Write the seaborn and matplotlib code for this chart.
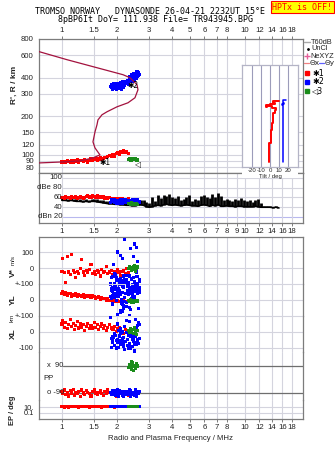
import matplotlib
matplotlib.use("Agg")
import pandas as pd
import matplotlib.pyplot as plt
import seaborn as sns
from matplotlib.ticker import FixedLocator, FixedFormatter, NullLocator
from matplotlib.lines import Line2D
from matplotlib.patches import Rectangle

# ---------------- data ----------------
title_line1 = "TROMSO NORWAY   DYNASONDE 26-04-21 2232UT 15°E"
title_line2 = "8pBP6It DoY= 111.938 File= TR943945.BPG"
warning_text = "HPTx is OFF!"

freq_ticks = [1, 1.5, 2, 3, 4, 5, 6, 7, 8, 10, 12, 14, 16, 18]
freq_labels = ["1", "1.5", "2", "3", "4", "5", "6", "7", "8", "10", "12", "14", "16", "18"]
freq_ticks_mid = [1, 1.5, 2, 3, 4, 5, 6, 7, 8, 9, 10, 12, 14, 16, 18]
freq_labels_mid = ["1", "1.5", "2", "3", "4", "5", "6", "7", "8", "9", "10", "12", "14", "16", "18"]

height_ticks = [80, 90, 100, 120, 150, 200, 300, 400, 600, 800]
height_labels = ["80", "90", "100", "120", "150", "200", "300", "400", "600", "800"]

dbe_ticks = [100, 80, 60, 40, 20]
dbe_labels = ["100", "dBe 80", "60", "40", "dBn 20"]

v_ticks = [100, 0, -100]
v_labels = ["100", "0", "+-100"]
yl_ticks = [100, 0, -100]
yl_labels = ["", "0", "+-100"]
xl_ticks = [100, 0, -100]
xl_labels = ["", "0", "-100"]
pp_ticks = [90, -90]
pp_labels = ["x  90", "o -90"]
ep_ticks = [10, 0.1]
ep_labels = ["10.", "0.1"]

tilt_ticks = [-20, -10, 0, 10, 20]
tilt_labels = ["-20", "-10", "0", "10", "20"]

# echo series 1 (red)
red_freq = [1.00, 1.01, 1.03, 1.05, 1.07, 1.09, 1.11, 1.13, 1.15, 1.17,
            1.19, 1.21, 1.23, 1.26, 1.28, 1.31, 1.33, 1.36, 1.38, 1.41,
            1.44, 1.47, 1.50, 1.53, 1.56, 1.59, 1.62, 1.65, 1.68, 1.71,
            1.75, 1.78, 1.82, 1.86, 1.90, 1.94, 1.98, 2.02, 2.06, 2.10,
            2.14, 2.18, 2.22, 2.26, 2.30]
red_range = [88, 87, 89, 88, 90, 89, 87, 91, 88, 90,
             89, 92, 88, 90, 91, 89, 92, 90, 88, 91,
             93, 90, 92, 94, 91, 93, 95, 92, 94, 96,
             95, 97, 99, 97, 100, 98, 102, 104, 101, 106,
             105, 108, 104, 107, 103]
red_amp = [59, 60, 58, 61, 59, 60, 58, 61, 60, 59,
           62, 58, 60, 61, 59, 57, 60, 62, 63, 61,
           60, 64, 62, 61, 63, 60, 62, 59, 61, 58,
           60, 57, 59, 56, 58, 55, 57, 56, 58, 55,
           57, 54, 56, 55, 57]
red_vstar = [-20, 60, -30, -90, 70, -25, -40, 85, -15, -30,
             -60, -20, -35, -5, 55, -25, -45, -15, -30, -10,
             20, -35, -20, -40, -15, -25, -50, -10, -30, -20,
             10, -35, -25, -15, -40, -20, -30, -10, -25, -45,
             -20, -15, -35, -5, -30]
red_yl = [40, 50, 35, 45, 30, 38, 42, 25, 33, 28,
          40, 20, 35, 30, 25, 32, 18, 28, 22, 30,
          15, 25, 20, 10, 18, 22, 5, 15, 12, 8,
          0, 10, -5, 5, -10, 0, -8, -5, -12, -10,
          -15, -5, -10, -8, -12]
red_xl = [50, 70, 30, 60, 20, 45, 80, 35, 55, 15,
          40, 65, 25, 50, 30, 45, 10, 35, 55, 20,
          40, 25, 60, 30, 45, 15, 35, 50, 20, 40,
          10, 30, 45, 25, 15, 35, 5, 20, 30, 10,
          0, -10, 15, -5, 5]
red_pp = [-80, -95, -70, -100, -85, -110, -75, -90, -65, -105,
          -85, -95, -80, -115, -70, -90, -100, -75, -85, -95,
          -110, -80, -70, -90, -100, -85, -75, -95, -105, -80,
          -90, -70, -85, -100, -95, -80, -110, -90, -75, -85,
          -100, -95, -80, -90, -105]
red_ep = [12, 15, 10, 18, 14, 9, 16, 12, 20, 11,
          13, 17, 10, 15, 12, 19, 11, 14, 16, 10,
          13, 18, 12, 15, 11, 17, 14, 10, 16, 13,
          12, 18, 11, 15, 14, 10, 17, 13, 12, 16,
          11, 14, 15, 12, 13]

# echo series 2 (blue)
blue_freq = [1.86, 2.22, 1.95, 2.48, 2.05, 2.60, 1.90, 2.35, 2.12, 2.55,
             2.01, 2.41, 1.88, 2.30, 2.17, 2.63, 1.98, 2.44, 2.08, 2.52,
             1.93, 2.27, 2.14, 2.58, 2.03, 2.38, 1.84, 2.46, 2.19, 2.66,
             2.10, 2.33, 1.97, 2.50, 2.06, 2.24, 1.91, 2.42, 2.15, 2.57,
             2.00, 2.29, 2.11, 2.54, 1.89, 2.36, 2.07, 2.61, 2.20, 2.45,
             1.94, 2.26, 2.13, 2.49, 2.02, 2.39, 1.87, 2.53, 2.16, 2.64,
             2.04, 2.31, 1.99, 2.43, 2.09, 2.56, 1.92, 2.34, 2.18, 2.47]
blue_range = [335, 372, 350, 405, 328, 430, 342, 385, 360, 395,
              345, 420, 325, 365, 352, 438, 338, 390, 366, 425,
              330, 380, 348, 412, 356, 372, 340, 432, 362, 420,
              335, 392, 362, 380, 342, 358, 328, 402, 370, 445,
              352, 375, 322, 410, 348, 398, 355, 415, 345, 398,
              338, 366, 354, 428, 332, 385, 352, 400, 338, 425,
              362, 355, 326, 376, 344, 435, 358, 408, 376, 415]
blue_amp = [52, 55, 50, 54, 48, 56, 51, 53, 49, 55,
            52, 47, 54, 50, 56, 51, 48, 53, 55, 49,
            52, 50, 54, 47, 51, 53, 49, 55, 50, 52,
            48, 54, 51, 49, 53, 50, 56, 52, 48, 51,
            50, 53, 49, 52, 55, 47, 54, 50, 52, 48,
            55, 51, 49, 53, 47, 52, 56, 50, 54, 49,
            51, 48, 53, 55, 50, 46, 52, 54, 49, 51]
blue_vstar = [-60, -90, -40, -120, -75, -100, -55, -130, -85, -20,
              -110, -70, -145, -95, -50, -125, -80, -105, -65, -140,
              -35, -115, -90, 40, -70, 120, -100, -60, 180, -85,
              80, -130, -45, 150, -95, -75, 20, -110, 60, -55,
              100, -150, -80, -25, -120, -160, -90, -135, -70, -115,
              -100, -45, -155, -85, -125, -65, -140, -95, -110, -75,
              -130, -88, -60, -170, -105, 130, -120, -50, -95, 70]
blue_yl = [70, 40, 85, 20, 60, 95, 30, 55, -20, 75,
           45, 10, 65, 35, -50, 80, 25, 50, -80, 90,
           15, 60, -30, 40, 70, -60, 20, 85, -10, 50,
           35, -95, 65, 5, 45, -40, 75, 25, -70, 55,
           30, 90, 0, 60, -25, 80, 50, -55, 15, 70,
           40, -15, 85, 20, -90, 65, 10, 55, -35, 75,
           25, 95, -5, 45, -65, 60, 35, -45, 80, 5]
blue_xl = [-40, -60, -20, -80, 10, -50, -30, -90, -70, 30,
           -45, -15, -65, -100, -35, 60, -55, -25, -75, 80,
           -10, -85, -50, 40, -95, -30, 90, -60, -110, -40,
           20, -70, -20, -120, -55, 70, -35, -90, 0, -65,
           50, -45, -80, -15, -50, -105, -25, -70, 35, -60,
           -85, -5, -40, -115, -65, 15, -95, -30, -75, 45,
           -55, -20, -100, -45, -10, -80, -35, 65, -90, -50]
blue_pp = [-85, -95, -75, -105, -90, -80, -100, -70, -95, -110,
           -85, -90, -75, -100, -80, -95, -105, -90, -85, -70,
           -100, -95, -80, -90, -110, -75, -85, -100, -90, -80,
           -95, -70, -105, -85, -90, -100, -75, -95, -80, -90,
           -85, -100, -95, -80, -90, -110, -75, -95, -85, -100,
           -90, -80, -105, -95, -70, -85, -100, -90, -115, -80,
           -95, -85, -75, -100, -90, -105, -80, -95, -85, -90]
blue_ep = [13, 15, 12, 14, 16, 11, 13, 15, 12, 14,
           17, 13, 12, 15, 14, 11, 16, 13, 12, 15,
           14, 13, 16, 12, 14, 11, 15, 13, 12, 14,
           16, 13, 15, 12, 14, 13, 11, 15, 14, 12,
           13, 16, 14, 12, 15, 13, 14, 12, 16, 13,
           12, 14, 15, 13, 11, 14, 16, 12, 13, 15,
           14, 12, 13, 15, 16, 12, 14, 13, 15, 11]

# echo series 3 (green)
green_freq = [2.32, 2.35, 2.38, 2.41, 2.44, 2.47, 2.50, 2.53, 2.56, 2.59, 2.40, 2.46, 2.52, 2.58]
green_range = [92, 93, 91, 93, 92, 94, 92, 93, 91, 92, 91, 93, 92, 91]
green_amp = [47, 48, 46, 49, 47, 45, 48, 46, 47, 45, 48, 46, 47, 45]
green_vstar = [-5, 10, 0, -15, 5, -10, 15, -20, 0, 8, -8, 12, -12, 3]
green_yl = [-5, -10, 0, -15, -8, -3, -12, -6, -10, -2, -7, -14, -4, -9]
green_xl = [10, -5, 20, 0, 15, -10, 25, 5, -15, 10, 0, 18, -8, 12]
green_pp = [80, 100, 90, 70, 110, 85, 95, 75, 105, 90, 120, 60, 95, 85]
green_ep = [14, 15, 13, 14, 16, 13, 15, 14, 13, 15, 14, 13, 15, 14]

# true-height profile
prof_freq = [0.749, 1.013, 1.254, 1.477, 1.613, 1.515, 1.477, 1.515, 1.553, 1.573,
             1.654, 1.762, 1.998, 2.295, 2.505, 2.602, 2.570, 2.352, 2.154, 1.065, 0.749]
prof_height = [86.6, 88.2, 89.8, 94.8, 100, 113.4, 126.4, 151.2, 171.5, 187.5,
               205.4, 216.8, 237, 254.8, 278.8, 322, 352.6, 399.6, 421.7, 552, 638]

# NeXYZ markers
ne_freq = [1.134, 1.286, 1.496, 2.049, 2.295]
ne_height = [89.8, 89.8, 89.8, 237, 250]

# amplitude of unclassified echoes (black trace): frequency, low, high
black_freq = [1.00, 1.04, 1.08, 1.12, 1.16, 1.20, 1.25, 1.30, 1.35, 1.40, 1.45,
              1.50, 1.56, 1.62, 1.68, 1.74, 1.80, 1.87, 1.94,
              2.01, 2.08, 2.16, 2.24, 2.32, 2.41, 2.50, 2.59, 2.69, 2.79, 2.89,
              3.00, 3.11, 3.22, 3.34, 3.46, 3.59, 3.72, 3.86,
              4.00, 4.15, 4.30, 4.46, 4.62, 4.79, 4.97,
              5.15, 5.34, 5.54, 5.74, 5.95, 6.17,
              6.40, 6.63, 6.88, 7.13, 7.39, 7.66, 7.94,
              8.23, 8.54, 8.85, 9.18, 9.52, 9.87,
              10.2, 10.6, 11.0, 11.4, 11.8, 12.2,
              12.7, 13.2, 13.7, 14.2, 14.7, 15.2]
black_high = [58, 58, 57, 58, 57, 56, 57, 55, 56, 55, 56,
              57, 56, 55, 54, 53, 52, 52, 51,
              51, 50, 50, 49, 49, 48, 50, 52, 55, 54, 50,
              48, 60, 52, 64, 58, 66, 62, 67,
              60, 58, 63, 55, 57, 60, 64,
              52, 56, 54, 62, 66, 60,
              58, 68, 60, 70, 62, 54, 56,
              55, 52, 56, 54, 58, 55,
              52, 55, 50, 54, 56, 48,
              42, 42, 42, 41, 42, 41]
black_low = [54, 54, 53, 54, 53, 52, 52, 51, 52, 51, 52,
             52, 51, 50, 49, 48, 47, 47, 46,
             46, 45, 45, 44, 44, 43, 43, 44, 45, 44, 41,
             40, 41, 43, 44, 43, 45, 46, 45,
             44, 45, 44, 43, 44, 45, 44,
             43, 43, 42, 44, 45, 44,
             42, 44, 43, 45, 42, 42, 43,
             42, 42, 41, 42, 42, 41,
             41, 41, 41, 42, 41, 40,
             40, 40, 40, 39, 40, 39]

# tilt inset (Theta x red, Theta y blue) vs height
tiltx_deg = [-0.8, 1.1, 2.6, 3.7, 5.6, 6.3, 1.9, -3.7, -4.4, 0.0, 5.6, 3.7, 10.0]
tiltx_height = [87.7, 123.4, 156.8, 176.9, 211.8, 224.7, 231.6, 241.4, 235.9, 245.8, 250.3, 256.3, 265.6]
tilty_deg = [14.4, 14.4, 13.3, 15.0, 14.2, 17.4]
tilty_height = [87.7, 240, 244, 252, 256, 270]

# ---------------- styling ----------------
sns.set_style("white")
plt.rcParams['font.family'] = ['Liberation Sans', 'DejaVu Sans']

W, H = 335, 451
F_MIN, F_MAX = 0.749, 20.75
GRID = '#d4d4de'
FRAME = '#7c7c7c'
TXT = '#222222'
PAL = {'1': '#ff0000', '2': '#0000ff', '3': '#1a8c1a'}

def echoes(name, f, r, a, v, yl, xl, pp, ep):
    return pd.DataFrame(dict(series=name, freq=f, height=r, amp=a, vstar=v,
                             yl=yl, xl=xl, pp=pp, ep=ep))

df = pd.concat([
    echoes('1', red_freq, red_range, red_amp, red_vstar, red_yl, red_xl, red_pp, red_ep),
    echoes('2', blue_freq, blue_range, blue_amp, blue_vstar, blue_yl, blue_xl, blue_pp, blue_ep),
    echoes('3', green_freq, green_range, green_amp, green_vstar, green_yl, green_xl, green_pp, green_ep),
], ignore_index=True)

fig = plt.figure(figsize=(W / 100, H / 100), dpi=100)
fig.patch.set_facecolor('white')

def box(top, bottom, left=39, right=303):
    return [left / W, 1 - bottom / H, (right - left) / W, (bottom - top) / H]

def fx(x):
    return x / W

def fy(y):
    return 1 - y / H

def base(ax, xt, xl_, show_labels=False, top=False):
    ax.set_xscale('log')
    ax.set_xlim(F_MIN, F_MAX)
    ax.xaxis.set_major_locator(FixedLocator(xt))
    ax.xaxis.set_major_formatter(FixedFormatter(xl_))
    ax.xaxis.set_minor_locator(NullLocator())
    ax.grid(True, axis='x', color=GRID, lw=0.8)
    ax.set_axisbelow(True)
    for s in ax.spines.values():
        s.set_color(FRAME)
        s.set_linewidth(0.9)
    ax.tick_params(axis='both', colors=TXT, labelsize=5.6, length=2.5, width=0.7, pad=1.2)
    ax.tick_params(axis='x', color=FRAME)
    if top:
        ax.tick_params(axis='x', top=True, labeltop=True, bottom=False, labelbottom=False)
    elif show_labels:
        ax.tick_params(axis='x', bottom=True, labelbottom=True)
    else:
        ax.tick_params(axis='x', bottom=False, labelbottom=False, length=0)
    ax.set_xlabel('')
    ax.set_ylabel('')

def scat(ax, y, clip=True, s=5):
    sns.scatterplot(data=df, x='freq', y=y, hue='series', palette=PAL, marker='s', s=s,
                    linewidth=0, legend=False, ax=ax, clip_on=clip, zorder=3)

# ---- main height panel ----
ax1 = fig.add_axes(box(39, 173))
ax1.set_xscale('log')
ax1.set_yscale('log')
scat(ax1, 'height')
sns.lineplot(x=prof_freq, y=prof_height, sort=False, estimator=None, color='#a3123e',
             lw=0.9, ax=ax1, zorder=4)
sns.scatterplot(x=ne_freq, y=ne_height, marker=r'$\mathrm{I}$', color='#e4609a', s=22,
                linewidth=0, ax=ax1, zorder=5)
ax1.text(1.60, 87.5, "✱1", fontsize=5.5, color='black', ha='left', va='center', zorder=6,
         family=['DejaVu Sans'])
ax1.text(2.27, 345, "✱2", fontsize=5.5, color='black', ha='left', va='center', zorder=6,
         family=['DejaVu Sans'])
ax1.text(2.50, 84, "◁", fontsize=5.5, color='black', ha='left', va='center', zorder=6,
         family=['DejaVu Sans'])
base(ax1, freq_ticks, freq_labels, top=True)
ax1.set_ylim(72.3, 800)
ax1.yaxis.set_major_locator(FixedLocator(height_ticks))
ax1.yaxis.set_major_formatter(FixedFormatter(height_labels))
ax1.yaxis.set_minor_locator(NullLocator())
ax1.grid(True, axis='y', color=GRID, lw=0.8)
ax1.tick_params(axis='y', color=GRID)

# ---- amplitude panel ----
ax2 = fig.add_axes(box(173, 223))
ax2.set_xscale('log')
ax2.vlines(black_freq, black_low, black_high, color='black', lw=2.0, zorder=2)
sns.lineplot(x=black_freq, y=black_low, color='black', lw=1.2, ax=ax2, zorder=2)
scat(ax2, 'amp')
base(ax2, freq_ticks_mid, freq_labels_mid, show_labels=True)
ax2.set_ylim(7.7, 110)
ax2.set_yticks([])
for val, lab in zip(dbe_ticks, dbe_labels):
    ax2.text(23 / 264, val, lab, transform=ax2.get_yaxis_transform(), ha='right',
             va='center', fontsize=5.6, color=TXT)
    ax2.axhline(val, xmin=24 / 264, color=('#b8b8ee' if val == 20 else GRID), lw=0.8, zorder=0.5)

# ---- lower stacked panels ----
def lower(top, bottom):
    ax = fig.add_axes(box(top, bottom))
    ax.patch.set_visible(False)
    ax.set_xscale('log')
    return ax

axV = lower(237, 284)
axY = lower(284, 316)
axX = lower(316, 352)
axP = lower(352, 400)
axE = lower(400, 419)
axE.set_yscale('log')

scat(axV, 'vstar', clip=False)
scat(axY, 'yl', clip=False)
scat(axX, 'xl', clip=False)
scat(axP, 'pp', clip=False)
scat(axE, 'ep', clip=False)

for ax, lim, ticks, labs in [(axV, (-100, 194), v_ticks, v_labels),
                             (axY, (-100, 100), yl_ticks, yl_labels),
                             (axX, (-125, 100), xl_ticks, xl_labels),
                             (axE, (10 ** -3.36, 10 ** 3.545), ep_ticks, ep_labels)]:
    base(ax, freq_ticks, freq_labels, show_labels=(ax is axE))
    ax.set_ylim(*lim)
    ax.yaxis.set_major_locator(FixedLocator(ticks))
    ax.yaxis.set_major_formatter(FixedFormatter(labs))
    ax.yaxis.set_minor_locator(NullLocator())
    ax.grid(True, axis='y', color=GRID, lw=0.8)
    ax.tick_params(axis='y', color=GRID, length=2.5, labelsize=5.3)

base(axP, freq_ticks, freq_labels)
axP.set_ylim(-137, 183)
axP.set_yticks([])
for val, lab in zip(pp_ticks, pp_labels):
    axP.text(8 / 264, val, lab, transform=axP.get_yaxis_transform(), ha='left',
             va='center', fontsize=5.4, color=TXT)
    axP.axhline(val, xmin=24 / 264, color='#6e6e6e', lw=0.9, zorder=0.6)
axP.text(4 / 264, 21 / 48, "PP", transform=axP.transAxes, ha='left', va='center',
         fontsize=5.6, color=TXT)

for ax in (axV, axY, axX, axP):
    ax.spines['bottom'].set_visible(False)
for ax in (axY, axX, axP, axE):
    ax.spines['top'].set_visible(False)

# ---- tilt inset ----
axI = fig.add_axes(box(65, 167, 242, 298))
axI.set_facecolor('white')
axI.set_yscale('log')
sns.lineplot(x=tiltx_deg, y=tiltx_height, sort=False, estimator=None, color='#ff0000',
             lw=1.4, drawstyle='steps-pre', ax=axI)
sns.lineplot(x=tilty_deg, y=tilty_height, sort=False, estimator=None, color='#0000ff',
             lw=1.1, drawstyle='steps-pre', ax=axI)
axI.set_xlim(-31, 31)
axI.set_ylim(80.6, 505)
axI.set_xticks(tilt_ticks)
axI.set_xticklabels(tilt_labels)
axI.set_yticks([])
axI.yaxis.set_minor_locator(NullLocator())
axI.grid(True, axis='x', color='#9c9cba', lw=0.8)
axI.set_axisbelow(True)
for s in axI.spines.values():
    s.set_color('#b4b4c6')
    s.set_linewidth(0.9)
axI.tick_params(axis='x', labelsize=4.3, length=0, pad=0.8, colors=TXT)
axI.set_xlabel('Tilt / deg', fontsize=4.3, labelpad=0.3, color=TXT)
axI.set_ylabel('')
axI.add_patch(Rectangle((0, -0.105), 1, 0.105, transform=axI.transAxes, clip_on=False,
                        facecolor='white', edgecolor='none', zorder=0.1))

# ---- figure texts ----
fig.text(fx(150), fy(12), title_line1, ha='center', va='center', fontsize=6,
         family=['DejaVu Sans Mono'], color='black')
fig.text(fx(156), fy(20), title_line2, ha='center', va='center', fontsize=6,
         family=['DejaVu Sans Mono'], color='black')
fig.text(fx(302.5), fy(7), warning_text, ha='center', va='center', fontsize=6,
         family=['DejaVu Sans Mono'], color='#ff0000',
         bbox=dict(facecolor='#ffff00', edgecolor='#ff0000', pad=1.2, lw=0.8))

fig.text(fx(14), fy(85), "R', R / km", rotation=90, ha='center', va='center', fontsize=6,
         fontweight='bold', color=TXT)
fig.text(fx(13), fy(273), "V*", rotation=90, ha='center', va='center', fontsize=6,
         fontweight='bold', color=TXT)
fig.text(fx(13), fy(260), "m/s", rotation=90, ha='center', va='center', fontsize=4.5,
         color=TXT)
fig.text(fx(13), fy(300), "YL", rotation=90, ha='center', va='center', fontsize=6,
         fontweight='bold', color=TXT)
fig.text(fx(12), fy(318), "km", rotation=90, ha='center', va='center', fontsize=4.5,
         color=TXT)
fig.text(fx(13), fy(334), "XL", rotation=90, ha='center', va='center', fontsize=6,
         fontweight='bold', color=TXT)
fig.text(fx(13), fy(410), "EP / deg", rotation=90, ha='center', va='center', fontsize=5.4,
         fontweight='bold', color=TXT)
fig.text(fx(170), fy(439), "Radio and Plasma Frequency / MHz", ha='center', va='center',
         fontsize=5.6, color=TXT)

# legend at right
LS = 5.3
fig.add_artist(Line2D([fx(304), fx(310)], [fy(42), fy(42)], color='#a8a8a8', lw=1.0))
fig.text(fx(311), fy(42), "T60dB", fontsize=LS, va='center', color=TXT)
fig.add_artist(Line2D([fx(307.5)], [fy(49)], marker='.', color='black', markersize=2, lw=0))
fig.text(fx(311), fy(49), "UnCl", fontsize=LS, va='center', color=TXT)
fig.add_artist(Line2D([fx(306.5)], [fy(56)], marker='+', color='#e4609a', markersize=4, lw=0))
fig.text(fx(310), fy(56), "NeXYZ", fontsize=LS, va='center', color=TXT)
fig.add_artist(Line2D([fx(304), fx(309)], [fy(63), fy(63)], color='#f08080', lw=0.9))
fig.text(fx(309.5), fy(63), "Θx", fontsize=LS, va='center', color=TXT, family=['DejaVu Sans'])
fig.add_artist(Line2D([fx(319), fx(324)], [fy(63), fy(63)], color='#6060ff', lw=0.9))
fig.text(fx(324.5), fy(63), "Θy", fontsize=LS, va='center', color=TXT, family=['DejaVu Sans'])
for yy, col, lab in [(73, PAL['1'], "✱1"), (82, PAL['2'], "✱2"), (91, PAL['3'], "◁3")]:
    fig.add_artist(Line2D([fx(307)], [fy(yy)], marker='s', color=col, markersize=2.4, lw=0))
    fig.text(fx(312), fy(yy), lab, fontsize=5.8, va='center', color='black',
             family=['DejaVu Sans'])

fig.savefig("out.png", dpi=100, facecolor='white')
